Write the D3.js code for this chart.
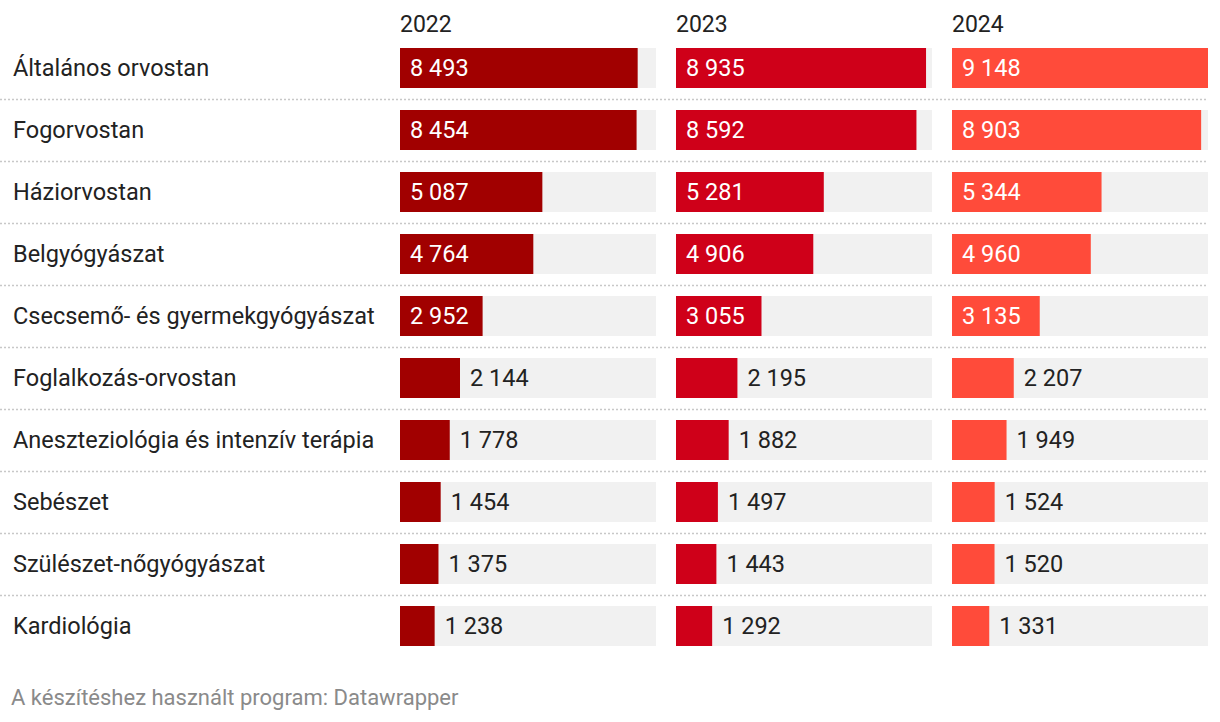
<!DOCTYPE html>
<html>
<head>
<meta charset="utf-8">
<script src="https://cdn.jsdelivr.net/npm/d3@7"></script>
<style>
  body { margin: 0; background: #fff; font-family: Roboto, "Noto Sans", sans-serif; }
</style>
</head>
<body>
<script>
// adatok
const categories = [
  "Általános orvostan",
  "Fogorvostan",
  "Háziorvostan",
  "Belgyógyászat",
  "Csecsemő- és gyermekgyógyászat",
  "Foglalkozás-orvostan",
  "Aneszteziológia és intenzív terápia",
  "Sebészet",
  "Szülészet-nőgyógyászat",
  "Kardiológia"
];
const years = ["2022", "2023", "2024"];
const values2022 = [8493, 8454, 5087, 4764, 2952, 2144, 1778, 1454, 1375, 1238];
const values2023 = [8935, 8592, 5281, 4906, 3055, 2195, 1882, 1497, 1443, 1292];
const values2024 = [9148, 8903, 5344, 4960, 3135, 2207, 1949, 1524, 1520, 1331];
const series = [values2022, values2023, values2024];
const colors = ["#a10000", "#cf0019", "#ff4b3a"];

const W = 1220, H = 722;
const svg = d3.select("body").append("svg").attr("width", W).attr("height", H);

// rács
const colX = d3.scaleBand().domain(years).range([400, 1208]).paddingInner(20 / 276);
const rowY = d3.scaleBand().domain(categories).range([37, 37 + 62 * categories.length]).paddingInner(22 / 62).paddingOuter(11 / 62);
const x = d3.scaleLinear().domain([0, d3.max(series.flat())]).range([0, colX.bandwidth()]);
const fmt = v => d3.format(",")(v).replace(/,/g, " ");

// elválasztók
svg.append("g").selectAll("line")
  .data(categories.slice(0, -1))
  .join("line")
  .attr("x1", 0).attr("x2", 1208)
  .attr("y1", d => rowY(d) + rowY.bandwidth() + 11.5)
  .attr("y2", d => rowY(d) + rowY.bandwidth() + 11.5)
  .attr("stroke", "#c8c8c8").attr("stroke-width", 1.3)
  .attr("stroke-dasharray", "2,2");

// sorcímkék
svg.append("g").selectAll("text")
  .data(categories)
  .join("text")
  .attr("x", 13)
  .attr("y", d => rowY(d) + rowY.bandwidth() / 2)
  .attr("dy", "0.35em")
  .attr("font-size", 23.5)
  .attr("fill", "#222")
  .text(d => d);

years.forEach((yr, i) => {
  const g = svg.append("g").attr("transform", "translate(" + colX(yr) + ",0)");
  g.append("text").attr("x", 0).attr("y", 32)
    .attr("font-size", 23).attr("fill", "#222").text(yr);

  const rows = g.selectAll(".row")
    .data(categories.map((c, j) => ({ c: c, v: series[i][j] })))
    .join("g")
    .attr("transform", d => "translate(0," + rowY(d.c) + ")");

  rows.append("rect")
    .attr("width", colX.bandwidth()).attr("height", rowY.bandwidth())
    .attr("fill", "#f1f1f1");
  rows.append("rect")
    .attr("width", d => x(d.v)).attr("height", rowY.bandwidth())
    .attr("fill", colors[i]);

  rows.append("text")
    .attr("x", d => x(d.v) > 75 ? 10 : x(d.v) + 10)
    .attr("y", rowY.bandwidth() / 2)
    .attr("dy", "0.35em")
    .attr("font-size", 23.5)
    .attr("fill", d => x(d.v) > 75 ? "#fff" : "#222")
    .text(d => fmt(d.v));
});

svg.append("text").attr("x", 11).attr("y", 705)
  .attr("font-size", 22).attr("fill", "#8a8a8a")
  .text("A készítéshez használt program: Datawrapper");
</script>
</body>
</html>
